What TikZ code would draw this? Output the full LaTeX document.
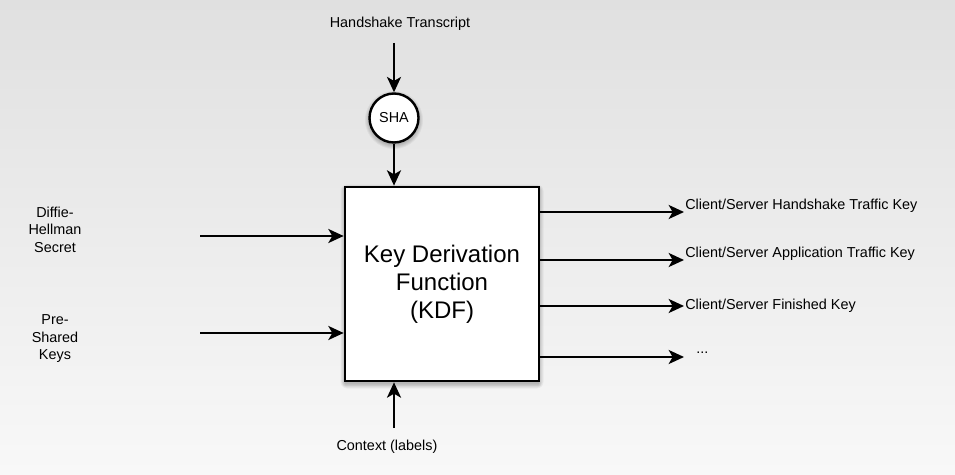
\documentclass[tikz,border=0pt]{standalone}
\usepackage{fontspec}
\setmainfont{Liberation Sans}
\usetikzlibrary{arrows.meta}
\definecolor{bgtop}{HTML}{E0E0E0}
\definecolor{bgbot}{HTML}{F8F8F8}
\begin{document}
\begin{tikzpicture}[x=0.75pt,y=-0.75pt,
  lbl/.style={font=\fontsize{10.8}{13.1}\selectfont, align=center, inner sep=0pt},
  conn/.style={line width=1.8pt, -{Stealth[length=11.5pt,width=10.5pt,inset=3pt]}},
  kdfbox/.style={draw, line width=2pt, fill=white, minimum width=145.5pt, minimum height=145.5pt,
     align=center, font=\fontsize{18}{21}\selectfont, inner sep=0pt},
  shanode/.style={draw, circle, line width=1.8pt, fill=white, minimum size=36.75pt, inner sep=0pt,
     font=\fontsize{10.8}{13}\selectfont},
  softshadow/.style={black, opacity=0.045}
]
\useasboundingbox (0,0) rectangle (955,474);
\shade[top color=bgtop, bottom color=bgbot] (0,0) rectangle (955,474);

% soft shadows
\foreach \k in {0,...,5}{
  \fill[softshadow, rounded corners=\k pt] (345-\k*0.9, 189-\k*0.9) rectangle (539+\k*0.9, 384+\k*0.9);
  \fill[softshadow] (394,120) circle ({24.5+\k*0.9});
}

\node[kdfbox] (kdf) at (442,284) {Key Derivation\\Function\\(KDF)};
\node[shanode] (sha) at (394,118) {SHA};

\node[lbl] (ht) at (400,24) {Handshake Transcript};
\coordinate (htin) at (394,43);
\draw[conn] (htin) -- (sha.north);
\draw[conn] (sha.south) -- (kdf.north -| sha);

\node[lbl] (dh) at (55,229.5) {Diffie-\\Hellman\\Secret};
\node[lbl] (psk) at (55,339) {Pre-\\Shared\\Keys};
\coordinate (dhin) at (200,236);
\coordinate (pskin) at (200,333);
\draw[conn] (dhin) -- (dhin -| kdf.west);
\draw[conn] (pskin) -- (pskin -| kdf.west);

\coordinate (o1) at (684,212);
\coordinate (o2) at (684,260);
\coordinate (o3) at (684,306);
\coordinate (o4) at (684,357);
\draw[conn] (o1 -| kdf.east) -- (o1);
\draw[conn] (o2 -| kdf.east) -- (o2);
\draw[conn] (o3 -| kdf.east) -- (o3);
\draw[conn] (o4 -| kdf.east) -- (o4);
\node[lbl, anchor=west] (t1) at (685,206) {Client/Server Handshake Traffic Key};
\node[lbl, anchor=west] (t2) at (685,254) {Client/Server Application Traffic Key};
\node[lbl, anchor=west] (t3) at (685,306) {Client/Server Finished Key};
\node[lbl, anchor=west] (t4) at (696,353) {...};

\coordinate (ctxin) at (394,428);
\draw[conn] (ctxin) -- (ctxin |- kdf.south);
\node[lbl] (ctx) at (387,447) {Context (labels)};
\end{tikzpicture}
\end{document}
